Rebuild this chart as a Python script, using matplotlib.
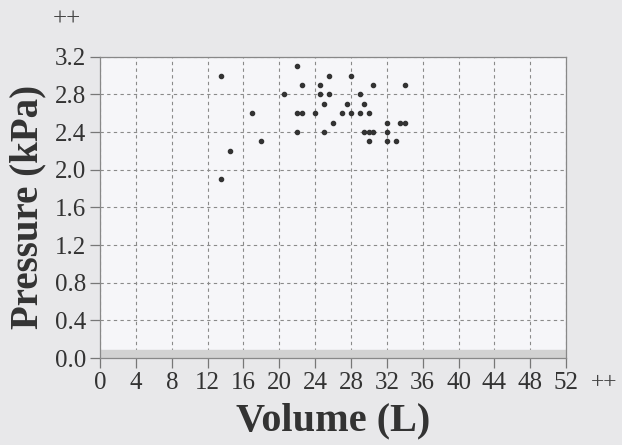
import matplotlib
matplotlib.use("Agg")
import matplotlib.pyplot as plt

volume = [13.5, 22, 25.5, 28, 22.5, 24.5, 30.5, 34, 20.5, 24.5, 25.5, 29, 25, 27.5, 29.5,
          17, 22, 22.5, 24, 27, 28, 29, 30, 26, 32, 33.5, 34, 22, 25, 29.5, 30, 30.5, 32,
          30, 32, 33, 18, 14.5, 13.5]
pressure = [3.0, 3.1, 3.0, 3.0, 2.9, 2.9, 2.9, 2.9, 2.8, 2.8, 2.8, 2.8, 2.7, 2.7, 2.7,
            2.6, 2.6, 2.6, 2.6, 2.6, 2.6, 2.6, 2.6, 2.5, 2.5, 2.5, 2.5, 2.4, 2.4, 2.4, 2.4, 2.4, 2.4,
            2.3, 2.3, 2.3, 2.3, 2.2, 1.9]
x_ticks = list(range(0, 53, 4))
y_ticks = [0.0, 0.4, 0.8, 1.2, 1.6, 2.0, 2.4, 2.8, 3.2]

plt.rcParams['font.family'] = ['Liberation Serif', 'DejaVu Serif']

fig = plt.figure(figsize=(6.22, 4.45), dpi=100, facecolor='#e8e8ea')
ax = fig.add_axes([0.161, 0.1955, 0.749, 0.677])
ax.set_facecolor('#f6f6f9')
ax.set_xlim(0, 52)
ax.set_ylim(0, 3.2)
ax.set_xticks(x_ticks)
ax.set_yticks(y_ticks)
ax.set_xticklabels([str(t) for t in x_ticks])
ax.set_yticklabels([f"{t:.1f}" for t in y_ticks])
ax.tick_params(axis='both', direction='out', length=7, width=0.9, color='#777777',
               labelsize=18, labelcolor='#333333', pad=3)
for s in ax.spines.values():
    s.set_color('#888888')
    s.set_linewidth(0.9)

ax.grid(True, color='#8a8a8a', linestyle=(0, (3, 3)), linewidth=0.8)
ax.set_axisbelow(True)
ax.axhspan(0, 0.09, color='#d2d2d2', zorder=1)

ax.scatter(volume, pressure, s=9, color='#333333', zorder=3)

ax.set_xlabel('Volume (L)', fontsize=29, fontweight='bold', color='#333333', labelpad=6)
ax.set_ylabel('Pressure (kPa)', fontsize=28, fontweight='bold', color='#333333', labelpad=6)

fig.text(53/622, 1 - 20/445, '++', fontsize=18, color='#444444', va='center', ha='left')
fig.text(591/622, 1 - 383/445, '++', fontsize=17, color='#444444', va='center', ha='left')

fig.savefig('out.png', dpi=100, facecolor=fig.get_facecolor())
